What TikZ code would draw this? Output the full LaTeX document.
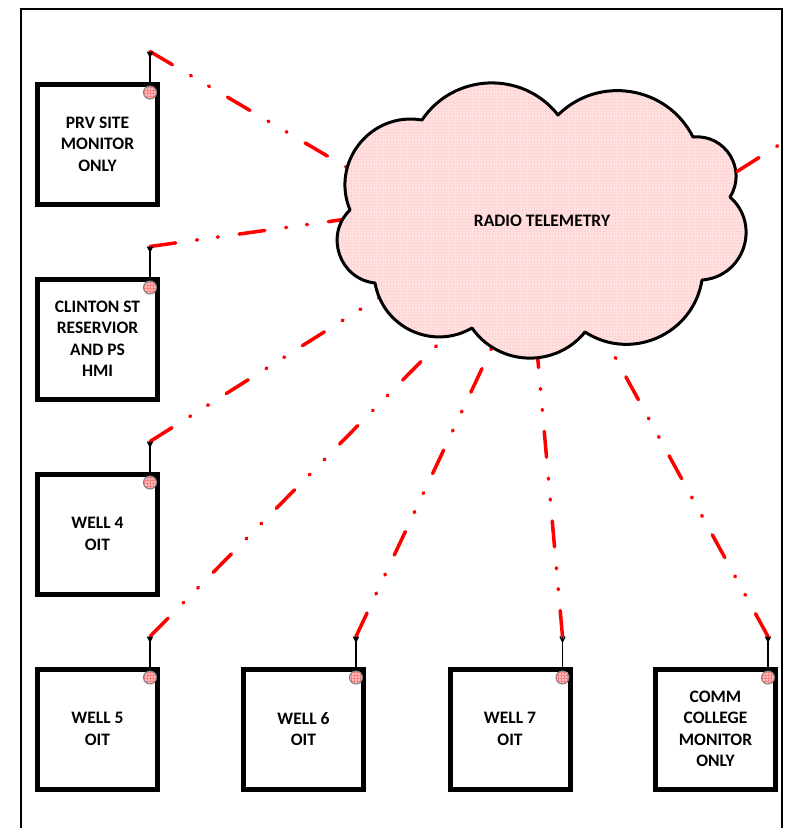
\documentclass[tikz,border=0pt]{standalone}
\usepackage{fontspec}
\setmainfont{Carlito}
\usetikzlibrary{calc,patterns}

\tikzset{
  sitio/.style={draw, line width=5pt, minimum width=120pt, minimum height=120pt,
    inner sep=0pt, align=center, font=\bfseries\fontsize{17.5}{21.5}\selectfont},
  antena/.style={line width=1.5pt},
  enlace/.style={red, line width=3.5pt, line cap=round,
    dash pattern=on 26pt off 21pt on 1pt off 20pt on 1pt off 21pt},
  nube/.style={draw, line width=3pt, line join=round, preaction={fill=red!11},
    pattern=grid, pattern color=red!16},
  foco/.style={draw=gray, line width=1pt, preaction={fill=red!25},
    pattern=grid, pattern color=red!50}
}

\begin{document}
\begin{tikzpicture}[x=1pt,y=-1pt]
        % Fija el marco de la figura.
        \useasboundingbox (0,0) rectangle (785,828);
        \draw[line width=2pt] (21,828) -- (21,9) -- (782,9) -- (782,828);

        % Define las puntas de la nube.
        \coordinate (c1) at (422,120);
        \coordinate (c2) at (558,115);
        \coordinate (c3) at (693,137);
        \coordinate (c4) at (730,197);
        \coordinate (c5) at (702,280);
        \coordinate (c6) at (585,332);
        \coordinate (c7) at (472,328);
        \coordinate (c8) at (375,283);
        \coordinate (c9) at (350,210);

        % Dibuja cada estacion con su antena y su enlace de radio.
        \foreach \nombre/\x/\y/\fx/\fy/\texto in {
            prv/97.5/144/346/167/{PRV SITE\\MONITOR\\ONLY},
            clinton/97.5/339/347/219/{CLINTON ST\\RESERVIOR\\AND PS\\HMI},
            pozocuatro/97.5/534/383/295/{WELL 4\\OIT},
            pozocinco/97.5/729/455/327/{WELL 5\\OIT},
            pozoseis/303.5/729/494/343/{WELL 6\\OIT},
            pozosiete/510/729/537/350/{WELL 7\\OIT},
            comm/715.5/729/603/335/{COMM\\COLLEGE\\MONITOR\\ONLY}}{
            \node[sitio] (\nombre) at (\x,\y) {\texto};
            \coordinate (\nombre-ant) at ($(\nombre.north east)+(-10,-30)$);
            \coordinate (\nombre-fin) at (\fx,\fy);
            \draw[enlace] (\nombre-ant) -- (\nombre-fin);
            \draw[antena] (\nombre-ant) -- (\nombre-ant |- \nombre.north);
            \draw[antena] ($(\nombre-ant)+(-2.5,0)$) -- ($(\nombre-ant)+(0,5)$)
                -- ($(\nombre-ant)+(2.5,0)$);
            \draw[foco] ($(\nombre.north east)+(-10,11)$) circle[radius=6.5];
        }

        % Dibuja la nube de radio telemetria.
        \draw[nube] (c9) to[bend left=61, looseness=1.15] (c1)
            to[bend left=54, looseness=1.07] (c2)
            to[bend left=54, looseness=1.07] (c3)
            to[bend left=64, looseness=1.18] (c4)
            to[bend left=67, looseness=1.23] (c5)
            to[bend left=57, looseness=1.10] (c6)
            to[bend left=53, looseness=1.06] (c7)
            to[bend left=55, looseness=1.09] (c8)
            to[bend left=65, looseness=1.19] (c9) -- cycle;
        \node[font=\bfseries\fontsize{17.5}{21.5}\selectfont] (telemetria) at (542,221)
            {RADIO TELEMETRY};

        % Enlace que sale de la nube hacia la derecha.
        \coordinate (nube-der) at (737,171.5);
        \coordinate (borde-der) at (782,143);
        \draw[enlace] (nube-der) -- (borde-der);
\end{tikzpicture}
\end{document}
